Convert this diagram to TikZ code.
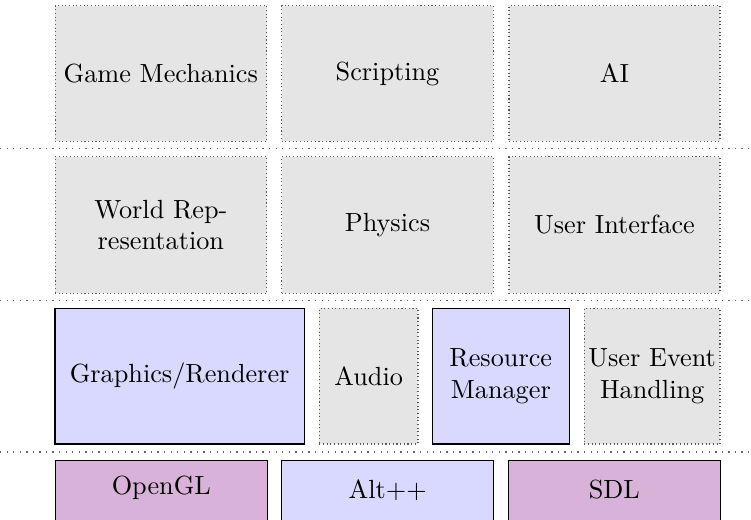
\documentclass[tikz,border=0pt]{standalone}
\definecolor{layergrey}{gray}{0.9}
\definecolor{libblue}{rgb}{0.85,0.85,1}
\definecolor{libviolet}{rgb}{0.85,0.7,0.85}
\tikzset{
  x=0.381pt, y=-0.381pt,
  box/.style={rectangle, inner sep=0pt, align=center, font=\normalsize},
  planned/.style={box, fill=layergrey, draw=black!65, densely dotted},
  component/.style={box, fill=libblue, draw=black, thin},
  external/.style={box, fill=libviolet, draw=black, thin},
  extblue/.style={box, fill=libblue, draw=black, thin},
  rowA/.style={minimum height=51.66pt},
  rowB/.style={minimum height=52.04pt},
  rowC/.style={minimum height=51.70pt},
  wide/.style={minimum width=80.6pt},
  separator/.style={draw=black!60, dotted, line width=0.5pt}
}
\begin{document}
\begin{tikzpicture}
  \useasboundingbox (0,0) rectangle (751,519);
  \clip (0,0) rectangle (751,519);

  % top layer: game logic
  \node[planned, rowA, wide] (mech) at (160.85,73.5) {Game Mechanics};
  \node[planned, rowA, wide] (script) at (387.5,73.5) {Scripting};
  \node[planned, rowA, minimum width=80.4pt] (ai) at (614.5,73.5) {AI};

  \draw[separator] (0,148.7) -- (751,148.7);

  % second layer: world and interface
  \node[planned, rowB, wide] (world) at (160.85,225) {World Rep-\\resentation};
  \node[planned, rowB, wide] (phys) at (387.5,225) {Physics};
  \node[planned, rowB, minimum width=80.4pt] (ui) at (614.5,225) {User Interface};

  \draw[separator] (0,300.7) -- (751,300.7);

  % third layer: engine subsystems
  \node[component, rowC, minimum width=94.98pt] (gfx) at (179.65,376.15) {Graphics/Renderer};
  \node[planned, rowC, minimum width=37.6pt] (audio) at (368.65,376.15) {Audio};
  \node[component, rowC, minimum width=52.2pt] (res) at (500.8,376.15) {Resource\\Manager};
  \node[planned, rowC, minimum width=51.7pt] (events) at (652.15,376.15) {User Event\\Handling};

  \draw[separator] (0,452) -- (751,452);

  % bottom layer: libraries (cut off by the page edge)
  \node[external, wide, minimum height=46pt, anchor=north] (gl) at (161.3,459.5) {};
  \node[extblue, wide, minimum height=46pt, anchor=north] (alt) at (387.7,459.5) {};
  \node[external, wide, minimum height=46pt, anchor=north] (sdl) at (614.3,459.5) {};
  \node at (161.3,488) (gltext) {OpenGL};
  \node at (387.7,490) (alttext) {Alt++};
  \node at (614.3,490) (sdltext) {SDL};
\end{tikzpicture}
\end{document}
